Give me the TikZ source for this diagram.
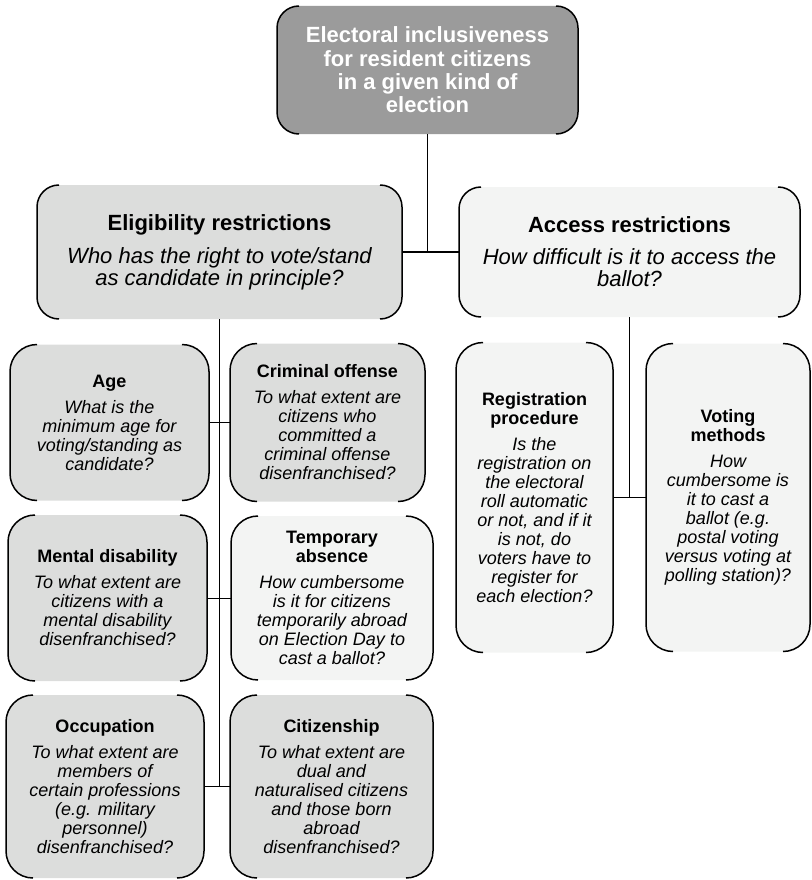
\documentclass[tikz,border=0pt]{standalone}
\usepackage{fontspec}
\setmainfont{Liberation Sans}
\definecolor{darkfill}{HTML}{9B9B9B}
\definecolor{midfill}{HTML}{DCDDDC}
\definecolor{palefill}{HTML}{F3F4F3}
\newcommand{\boxtext}[4][7pt]{\parbox{#2}{\centering\bfseries #3\par\vspace{#1}\mdseries\itshape #4\par}}

\begin{document}
\begin{tikzpicture}[x=1pt,y=-1pt]
\tikzset{box/.style = {shape=rectangle, fill=midfill, rounded corners=27pt, outer sep=0pt, inner sep=2pt, font=\fontsize{18}{19}\selectfont}}
\tikzset{bigbox/.style = {box, rounded corners=22pt, font=\fontsize{22}{22}\selectfont}}
\tikzset{side/.style = {line width=1.5pt}}
\tikzset{link/.style = {line width=1.6pt}}
\tikzset{twig/.style = {line width=0.9pt}}
\useasboundingbox (0,0) rectangle (811,880);

\node[bigbox, fill=darkfill, text=white, align=center, minimum width=301pt, minimum height=128pt, font=\fontsize{22}{23.3}\selectfont\bfseries] (top) at (427.5,70) {Electoral inclusiveness\\for resident citizens\\in a given kind of\\election};

\node[bigbox, minimum width=365pt, minimum height=134pt] (elig) at (219.5,252) {\boxtext[11pt]{355pt}{Eligibility restrictions}{Who has the right to vote/stand\\as candidate in principle?}};
\node[bigbox, fill=palefill, minimum width=341pt, minimum height=130pt] (access) at (629.5,252) {\boxtext[10pt]{330pt}{Access restrictions}{How difficult is it to access the\\ballot?}};

\node[box, minimum width=199pt, minimum height=156pt] (age) at (109.5,422.5) {\boxtext{190pt}{Age}{What is the\\minimum age for\\voting/standing as\\candidate?}};
\node[box, minimum width=195pt, minimum height=158pt] (crime) at (327.5,422.5) {\boxtext{186pt}{Criminal offense}{To what extent are\\citizens who\\committed a\\criminal offense\\disenfranchised?}};
\node[box, minimum width=199pt, minimum height=166pt] (mental) at (107.5,598) {\boxtext{190pt}{Mental disability}{To what extent are\\citizens with a\\mental disability\\disenfranchised?}};
\node[box, fill=palefill, minimum width=202pt, minimum height=164pt] (absence) at (332,598) {\boxtext{192pt}{Temporary\\absence}{How cumbersome\\is it for citizens\\temporarily abroad\\on Election Day to\\cast a ballot?}};
\node[box, minimum width=198pt, minimum height=183pt] (occup) at (105,786.5) {\boxtext{190pt}{Occupation}{To what extent are\\members of\\certain professions\\(e.g. military\\personnel)\\disenfranchised?}};
\node[box, minimum width=203pt, minimum height=183pt] (citizen) at (331.5,786.5) {\boxtext{194pt}{Citizenship}{To what extent are\\dual and\\naturalised citizens\\and those born\\abroad\\disenfranchised?}};

\node[box, fill=palefill, minimum width=157pt, minimum height=310pt] (regist) at (534.5,497.5) {\boxtext{148pt}{Registration\\procedure}{Is the\\registration on\\the electoral\\roll automatic\\or not, and if it\\is not, do\\voters have to\\register for\\each election?}};
\node[box, fill=palefill, minimum width=164pt, minimum height=308pt] (voting) at (728,497.5) {\boxtext{155pt}{Voting\\methods}{How\\cumbersome is\\it to cast a\\ballot (e.g.\\postal voting\\versus voting at\\polling station)?}};

\foreach \n/\r in {top/22pt,elig/22pt,access/22pt,age/27pt,crime/27pt,mental/27pt,absence/27pt,occup/27pt,citizen/27pt,regist/27pt,voting/27pt}
{
\draw[side, rounded corners=\r] ([xshift=\r]\n.north west) -- (\n.north west) -- (\n.south west) -- ([xshift=\r]\n.south west);
\draw[side, rounded corners=\r] ([xshift=-\r]\n.north east) -- (\n.north east) -- (\n.south east) -- ([xshift=-\r]\n.south east);
}

\draw[link] (top.south) -- (top.south |- elig.east);
\draw[link] (elig.east) -- (access.west);

\draw[twig] (elig.south) -- (elig.south |- occup.east);
\draw[twig] (age.east) -- (crime.west);
\draw[twig] (mental.east) -- (absence.west);
\draw[twig] (occup.east) -- (citizen.west);

\draw[twig] (access.south) -- (access.south |- regist.east);
\draw[twig] (regist.east) -- (voting.west);
\end{tikzpicture}
\end{document}
